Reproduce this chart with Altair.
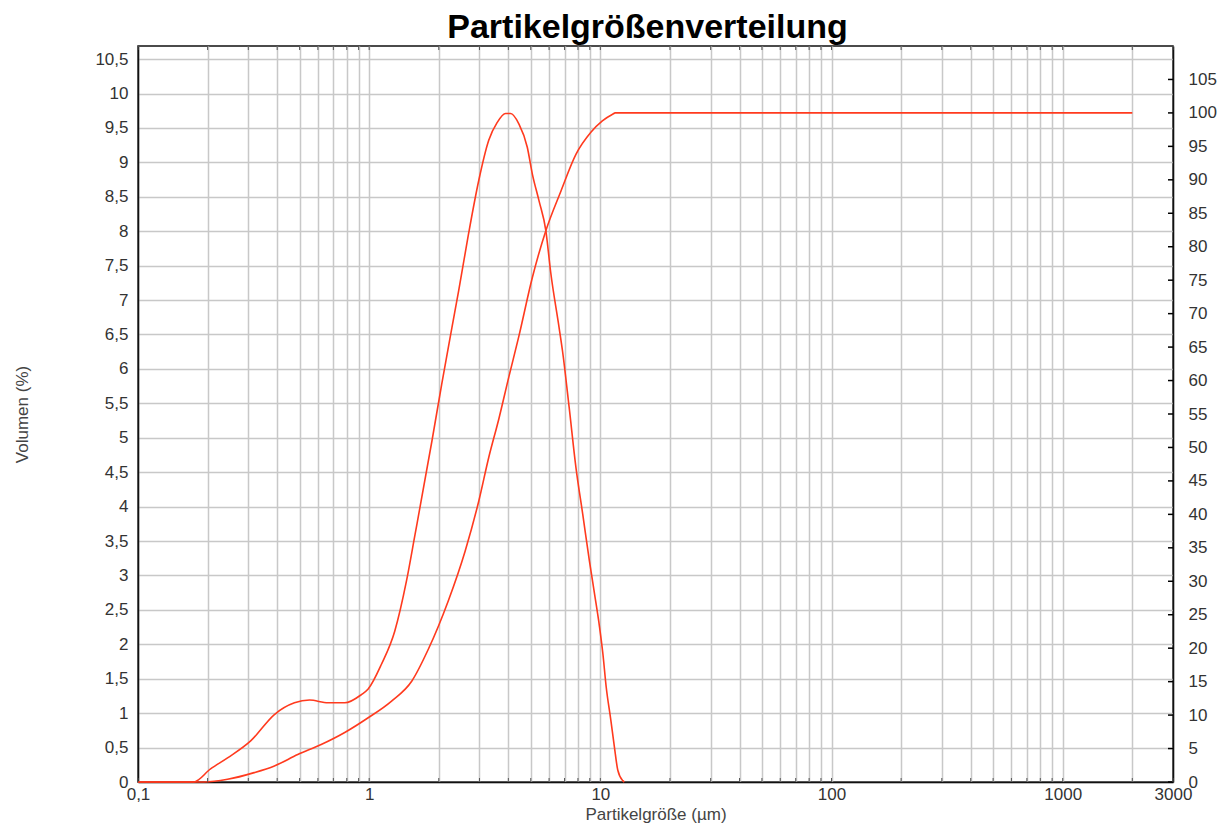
import altair as alt
import pandas as pd

# Density curve (left axis, Volumen %)
dens_d = [0.1, 0.174, 0.206, 0.244, 0.308, 0.389, 0.475, 0.552, 0.664, 0.784, 0.926, 0.99,
          1.13, 1.29, 1.45, 1.58, 1.87, 2.06, 2.28, 2.44, 2.69, 2.98, 3.29, 3.58, 3.89, 4.09,
          4.44, 4.83, 5.08, 5.43, 5.81, 6.1, 6.63, 6.86, 7.33, 7.84, 8.39, 8.96, 9.43,
          9.92, 10.25, 10.6, 11.1, 11.5, 11.9, 12.5, 12.7]
dens_v = [0, 0, 0.19, 0.35, 0.60, 0.98, 1.15, 1.19, 1.15, 1.15, 1.27, 1.35,
          1.71, 2.19, 2.92, 3.6, 4.96, 5.78, 6.6, 7.14, 7.96, 8.74, 9.32, 9.58, 9.71, 9.71,
          9.56, 9.22, 8.83, 8.44, 8.01, 7.4, 6.6, 6.26, 5.44, 4.57, 3.89, 3.22, 2.74,
          2.25, 1.87, 1.38, 0.90, 0.51, 0.17, 0.02, 0]

# Cumulative curve (right axis)
cum_d = [0.1, 0.193, 0.244, 0.318, 0.389, 0.491, 0.62, 0.784, 0.99, 1.25, 1.53, 1.8, 2.2,
         2.6, 2.98, 3.29, 3.64, 4.01, 4.44, 5.08, 5.81, 6.75, 7.84, 9.1, 10.2, 11.3, 11.6, 2000]
cum_v = [0, 0, 0.4, 1.4, 2.4, 4.1, 5.6, 7.4, 9.6, 12.1, 15.1, 19.8, 27.1,
         34.5, 42, 48.5, 54.3, 60.4, 66.6, 75.4, 82.4, 88.3, 93.8, 97.1, 98.8, 99.8, 100, 100]

# Axis ticks / grid
x_grid = [round(k * 10 ** e, 6) for e in range(-1, 3) for k in range(1, 10)] + [1000, 2000, 3000]
left_ticks = [i * 0.5 for i in range(22)]
right_ticks = list(range(0, 110, 5))

W, H = 1035, 736
FONT = "Liberation Sans"
RED = "#ff3a1e"

dens_df = pd.DataFrame({"d": dens_d, "v": dens_v})
cum_df = pd.DataFrame({"d": cum_d, "c": cum_v})
xt_df = pd.DataFrame({"d": x_grid})
rt_df = pd.DataFrame({"t": right_ticks})

xscale = alt.Scale(type="log", domain=[0.1, 3000], nice=False)

x_axis = alt.Axis(
    values=x_grid,
    labelExpr="datum.value == 0.1 ? '0,1' : (indexof([1,10,100,1000,3000], datum.value) >= 0 ? toString(datum.value) : '')",
    labelOverlap=False,
    labelFlush=False,
    labelPadding=4,
    ticks=False,
    title="Partikelgröße (µm)",
    titlePadding=4,
)

dens = alt.Chart(dens_df).mark_line(color=RED, strokeWidth=1.6, interpolate="monotone").encode(
    x=alt.X("d:Q", scale=xscale, axis=x_axis),
    y=alt.Y("v:Q", scale=alt.Scale(domain=[0, 10.69], nice=False, zero=True),
            axis=alt.Axis(values=left_ticks, orient="left",
                          labelExpr="replace(toString(datum.value), '.', ',')",
                          ticks=False, labelPadding=10, labelOverlap=False,
                          title="Volumen (%)", titleX=-116, titleY=H / 2,
                          titleAngle=-90, titleAlign="center", titleBaseline="middle")),
)

cum = alt.Chart(cum_df).mark_line(color=RED, strokeWidth=1.6, interpolate="monotone").encode(
    x=alt.X("d:Q", scale=xscale),
    y=alt.Y("c:Q", scale=alt.Scale(domain=[0, 110], nice=False),
            axis=alt.Axis(values=right_ticks, orient="right", grid=False,
                          ticks=False, labelPadding=15, labelOverlap=False,
                          labelAlign="left", title=None)),
)

rticks = alt.Chart(rt_df).mark_rule(color="#000000", strokeWidth=1.5).encode(
    x=alt.value(W - 5), x2=alt.value(W),
    y=alt.Y("t:Q", scale=alt.Scale(domain=[0, 110], nice=False), axis=None),
)

xticks_b = alt.Chart(xt_df).mark_rule(color="#555555", strokeWidth=1).encode(
    x=alt.X("d:Q", scale=xscale),
    y=alt.value(H), y2=alt.value(H - 4),
)
xticks_t = alt.Chart(xt_df).mark_rule(color="#555555", strokeWidth=1).encode(
    x=alt.X("d:Q", scale=xscale),
    y=alt.value(0), y2=alt.value(4),
)

chart = alt.layer(dens, cum, rticks, xticks_b, xticks_t).resolve_scale(
    y="independent"
).properties(
    width=W, height=H,
    padding={"left": 130, "top": 38, "right": 45, "bottom": 41},
    autosize=alt.AutoSizeParams(type="none"),
    title=alt.TitleParams("Partikelgrößenverteilung", fontSize=34, fontWeight="bold",
                          font=FONT, color="#000000", anchor="middle", dx=-8, dy=6, offset=7),
).configure_view(
    stroke="#111111", strokeWidth=1.5
).configure_axis(
    labelFont=FONT, labelFontSize=17, labelColor="#333333",
    titleFont=FONT, titleFontSize=17, titleFontWeight="normal", titleColor="#444444",
    gridColor="#c8c8c8", gridWidth=1.5, gridOpacity=1,
    domainColor="#111111", domainWidth=1.5,
)

chart.save("out.html", embed_options={"renderer": "svg", "actions": False})
